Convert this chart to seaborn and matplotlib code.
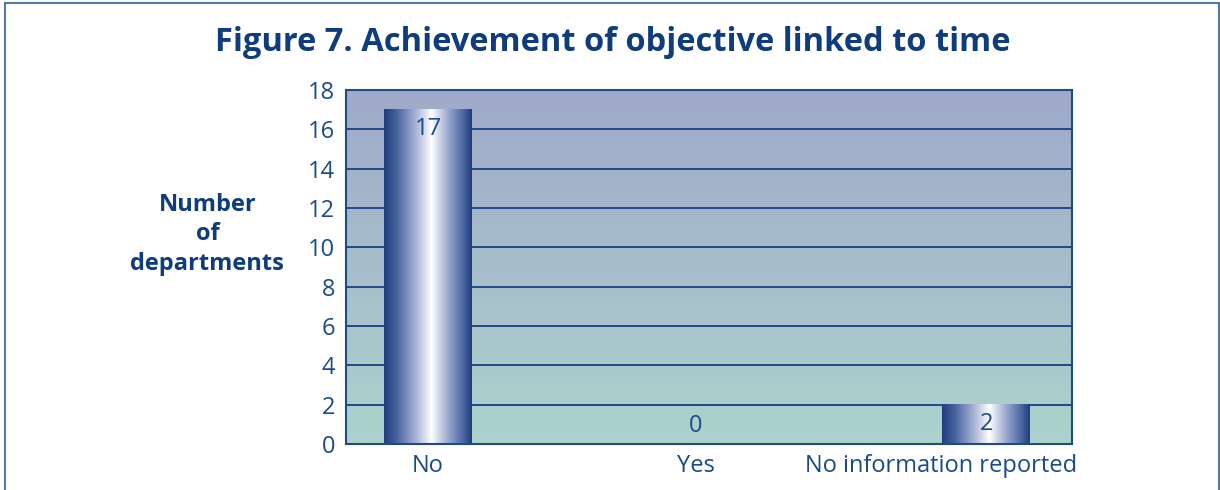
import numpy as np
import pandas as pd
import matplotlib
matplotlib.use("Agg")
import matplotlib.pyplot as plt
import seaborn as sns
from matplotlib.colors import LinearSegmentedColormap
from matplotlib.patches import Rectangle
from matplotlib.transforms import ScaledTranslation

# Data
categories = ["No", "Yes", "No information reported"]
departments = [17, 0, 2]
y_ticks = [0, 2, 4, 6, 8, 10, 12, 14, 16, 18]

NAVY = "#0E3C7C"
TEXT_BLUE = "#1A4A8A"
GRID_BLUE = "#1F4A88"

sns.set_theme(style="white")
plt.rcParams["font.family"] = ["Open Sans", "DejaVu Sans"]

fig = plt.figure(figsize=(12.2, 4.9), dpi=100)
ax = fig.add_axes([0.2836, 0.0939, 0.5951, 0.7224])

df = pd.DataFrame({"category": categories, "count": departments})
sns.barplot(data=df, x="category", y="count", ax=ax, width=0.315,
            color=NAVY, saturation=1, edgecolor="none")

ax.set_xlabel("")
ax.set_ylabel("")
ax.set_yticks(y_ticks)

# Vertical background wash behind the plot area
bg_cmap = LinearSegmentedColormap.from_list("bg", ["#ACD3CD", "#A0A9C9"])
grad = np.linspace(0, 1, 256).reshape(-1, 1)
ax.imshow(grad, cmap=bg_cmap, origin="lower", aspect="auto",
          extent=[0, 1, 0, 1], transform=ax.transAxes, zorder=0)

# Horizontal grid lines
ax.set_axisbelow(True)
ax.yaxis.grid(True, color=GRID_BLUE, linewidth=1.4, zorder=0.5)
ax.xaxis.grid(False)

# Cylinder-like shading on each bar
bar_cmap = LinearSegmentedColormap.from_list(
    "bar",
    [(0.0, "#1F3D7D"), (0.15, "#4A64A0"), (0.35, "#A2AED2"),
     (0.54, "#FFFFFF"), (0.70, "#AAB4D6"), (0.88, "#5670A8"), (1.0, "#1F3D7D")])
hgrad = np.linspace(0, 1, 256).reshape(1, -1)
for patch in ax.patches:
    x0, w, h = patch.get_x(), patch.get_width(), patch.get_height()
    patch.set_alpha(0)
    if h > 0:
        ax.imshow(hgrad, cmap=bar_cmap, aspect="auto",
                  extent=[x0, x0 + w, 0, h], zorder=1.5)

ax.set_xlim(-0.294, 2.308)
ax.set_ylim(0, 18)

# Value labels (the middle one sits a little left of its slot)
label_shift = [0, -11, 0]
for i, v in enumerate(departments):
    t = ax.text(i, max(v - 1.0, 0.9), str(v), ha="center", va="center",
                fontsize=17, color=TEXT_BLUE, zorder=5)
    t.set_transform(t.get_transform() +
                    ScaledTranslation(label_shift[i] / 100, 0, fig.dpi_scale_trans))

for side in ["left", "right", "top", "bottom"]:
    ax.spines[side].set_visible(True)
    ax.spines[side].set_color(GRID_BLUE)
    ax.spines[side].set_linewidth(1.5)

ax.tick_params(axis="both", length=0, labelsize=17, labelcolor=TEXT_BLUE)
ax.tick_params(axis="y", pad=8)
ax.tick_params(axis="x", pad=7)

# Nudge category labels: long last label is pulled back inside the frame
tick_shift = [0, -11, -45]
for lab, dx in zip(ax.get_xticklabels(), tick_shift):
    lab.set_transform(lab.get_transform() +
                      ScaledTranslation(dx / 100, 0, fig.dpi_scale_trans))

fig.text(0.502, 0.914, "Figure 7. Achievement of objective linked to time",
         ha="center", va="center", fontsize=23.5, fontweight="bold",
         color=NAVY)

fig.text(0.170, 0.522, "Number\nof\ndepartments", ha="center", va="center",
         fontsize=17, fontweight="bold", color=NAVY, linespacing=1.3)

# Page frame
frame = Rectangle((5 / 1220, -0.1), (1219 - 5) / 1220, 1 - 3 / 490 + 0.1,
                  transform=fig.transFigure, fill=False,
                  edgecolor="#5677A6", linewidth=1.5, clip_on=False)
fig.patches.append(frame)

fig.savefig("out.png", dpi=100)
